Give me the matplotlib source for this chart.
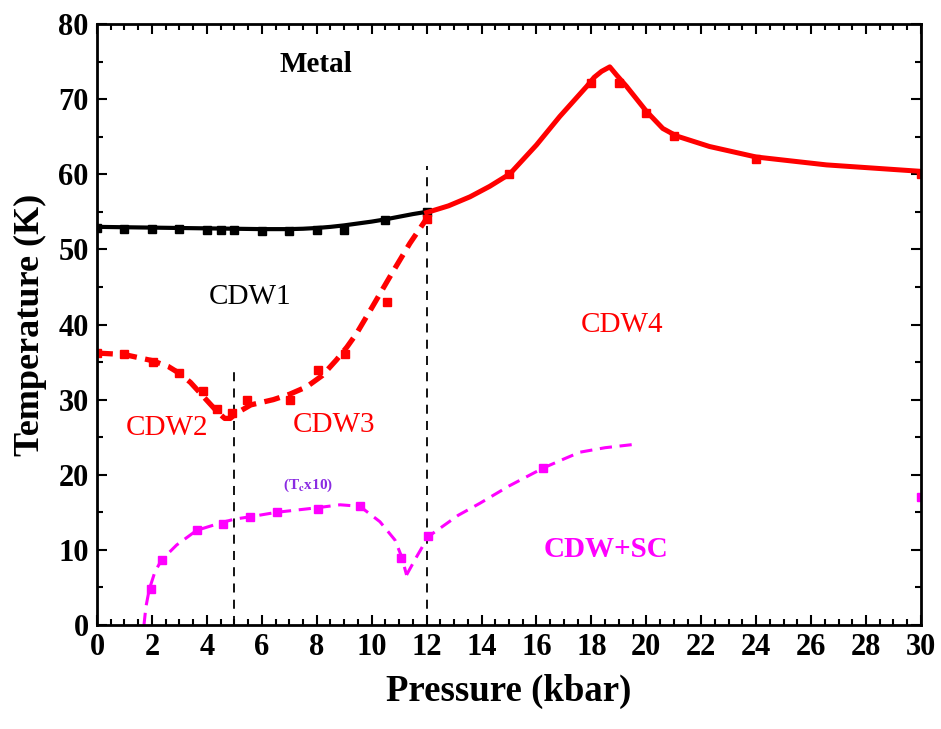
import matplotlib
matplotlib.use("Agg")
import matplotlib.pyplot as plt
from matplotlib.ticker import MultipleLocator

plt.rcParams['font.family'] = ['Liberation Serif', 'DejaVu Serif']
plt.rcParams['mathtext.fontset'] = 'stix'

# --- data ---
# CDW1 -> Metal boundary (black)
black_pts_x = [0, 1, 2, 3, 4, 4.5, 5, 6, 7, 8, 9, 10.5, 12]
black_pts_y = [52.9, 52.7, 52.7, 52.7, 52.6, 52.6, 52.6, 52.5, 52.5, 52.6, 52.6, 53.9, 55.0]
black_line_x = [0, 2, 4, 6, 7, 7.5, 8, 8.5, 9, 9.5, 10, 10.5, 11, 11.5, 12]
black_line_y = [53.0, 52.9, 52.8, 52.7, 52.7, 52.75, 52.85, 53.0, 53.2, 53.45, 53.7, 54.0, 54.35, 54.7, 55.0]

# CDW2/CDW3 boundary (red dashed)
red_pts_x = [0, 1.0, 2.05, 3.0, 3.87, 4.36, 4.9, 5.45, 7.03, 8.06, 9.03, 10.55, 12.02]
red_pts_y = [36.2, 36.1, 35.0, 33.6, 31.2, 28.7, 28.2, 30.0, 30.0, 33.9, 36.1, 43.0, 54.1]
red_dash_x = [0, 1, 2, 2.6, 3.0, 3.4, 3.75, 4.1, 4.4, 4.65, 4.85, 5.08, 5.6, 6.42, 7.0, 7.63, 8.2, 8.72, 9.1, 9.45,
              10.0, 10.67, 11.39, 12.0]
red_dash_y = [36.2, 36.0, 35.2, 34.4, 33.5, 32.3, 30.9, 29.5, 28.3, 27.5, 27.5, 28.2, 29.3, 30.0, 30.7, 31.7, 33.2,
              35.3, 37.0, 38.8, 42.2, 46.4, 50.8, 54.1]

# CDW4 boundary (red solid)
cdw4_pts_x = [15, 18, 19, 20, 21, 24, 30]
cdw4_pts_y = [60.1, 72.1, 72.1, 68.1, 65.1, 62.1, 60.1]
cdw4_line_x = [12.0, 12.8, 13.58, 14.3, 15.03, 16.0, 16.85, 17.83, 18.1, 18.37, 18.67, 18.92, 19.28, 20.0, 20.6,
               21.1, 22.3, 24.0, 26.56, 29.96]
cdw4_line_y = [54.9, 55.8, 57.0, 58.4, 60.05, 63.9, 67.7, 71.7, 72.9, 73.7, 74.3, 73.2, 71.7, 68.4, 66.1,
               65.1, 63.7, 62.3, 61.25, 60.4]

# Superconducting Tc x10 (magenta)
sc_pts_x = [1.95, 2.35, 3.63, 4.58, 5.57, 6.54, 8.06, 9.57, 11.06, 12.06, 16.25, 30]
sc_pts_y = [4.8, 8.65, 12.65, 13.5, 14.4, 15.1, 15.5, 15.8, 8.9, 11.85, 20.9, 17.0]
sc_line1_x = [1.71, 1.78, 1.9, 2.11, 2.35, 2.9, 3.63, 4.6, 5.02, 5.57, 6.54, 8.0, 8.85, 9.57, 10.3, 10.85, 11.09, 11.27]
sc_line1_y = [0.0, 2.4, 4.7, 7.1, 8.65, 10.65, 12.6, 13.7, 14.1, 14.4, 15.0, 15.6, 16.0, 15.8, 13.75, 11.3, 9.1, 6.66]
sc_line2_x = [11.27, 11.64, 12.06, 13.15, 13.94, 15.0, 16.25, 17.0, 17.58, 18.5, 19.7]
sc_line2_y = [6.66, 9.1, 11.76, 14.6, 16.2, 18.5, 20.9, 22.1, 23.0, 23.6, 24.1]

xticks = list(range(0, 31, 2))
yticks = list(range(0, 81, 10))

fig = plt.figure(figsize=(9.41, 7.29), dpi=100)
ax = fig.add_axes([0.1031, 0.1427, 0.8756, 0.8243])

# vertical boundaries
ax.plot([5, 5], [0, 34.5], color='black', lw=1.3, ls=(0, (5, 4)))
ax.plot([12, 12], [0, 61.1], color='black', lw=1.3, ls=(0, (5, 4)))

ax.plot(black_line_x, black_line_y, color='black', lw=3, solid_joinstyle='round')
ax.plot(black_pts_x, black_pts_y, 's', color='black', ms=5.5)

ax.plot(red_dash_x, red_dash_y, color='#ff0000', lw=3.8, ls=(0, (3, 1.6)))
ax.plot(red_pts_x, red_pts_y, 's', color='#ff0000', ms=6)

ax.plot(cdw4_line_x, cdw4_line_y, color='#ff0000', lw=3.6, solid_joinstyle='round')
ax.plot(cdw4_pts_x, cdw4_pts_y, 's', color='#ff0000', ms=5.5)

ax.plot(sc_line1_x, sc_line1_y, color='#ff00ff', lw=2.2, ls=(0, (4, 2.5)))
ax.plot(sc_line2_x, sc_line2_y, color='#ff00ff', lw=2.2, ls=(0, (4, 2.5)))
ax.plot(sc_pts_x, sc_pts_y, 's', color='#ff00ff', ms=5.5)

ax.set_xlim(0, 30)
ax.set_ylim(0, 80)
ax.set_xticks(xticks)
ax.set_yticks(yticks)
ax.xaxis.set_minor_locator(MultipleLocator(0.5))
ax.yaxis.set_minor_locator(MultipleLocator(5))
ax.tick_params(which='both', direction='in', top=True, right=True, width=1.5)
ax.tick_params(which='major', length=7, labelsize=22, pad=6)
ax.tick_params(which='minor', length=4)
for lab in ax.get_xticklabels() + ax.get_yticklabels():
    lab.set_fontweight('bold')
for sp in ax.spines.values():
    sp.set_linewidth(2)

ax.set_xlabel('Pressure (kbar)', fontsize=26.5, fontweight='bold', labelpad=8)
ax.set_ylabel('Temperature (K)', fontsize=26, fontweight='bold', labelpad=8)

ax.text(7.97, 74.6, 'Metal', fontsize=21, fontweight='bold', ha='center', va='center', color='black')
ax.text(5.57, 43.7, 'CDW1', fontsize=21, ha='center', va='center', color='black')
ax.text(2.55, 26.2, 'CDW2', fontsize=21, ha='center', va='center', color='#ff0000')
ax.text(8.63, 26.6, 'CDW3', fontsize=21, ha='center', va='center', color='#ff0000')
ax.text(19.1, 40.0, 'CDW4', fontsize=21, ha='center', va='center', color='#ff0000')
ax.text(18.53, 10.1, 'CDW+SC', fontsize=21, fontweight='bold', ha='center', va='center', color='#ff00ff')
ax.text(7.68, 18.6, r'(T$_\mathbf{c}$x10)', fontsize=11, fontweight='bold', ha='center', va='center', color='#8a2be2')

fig.savefig('out.png', dpi=100)
